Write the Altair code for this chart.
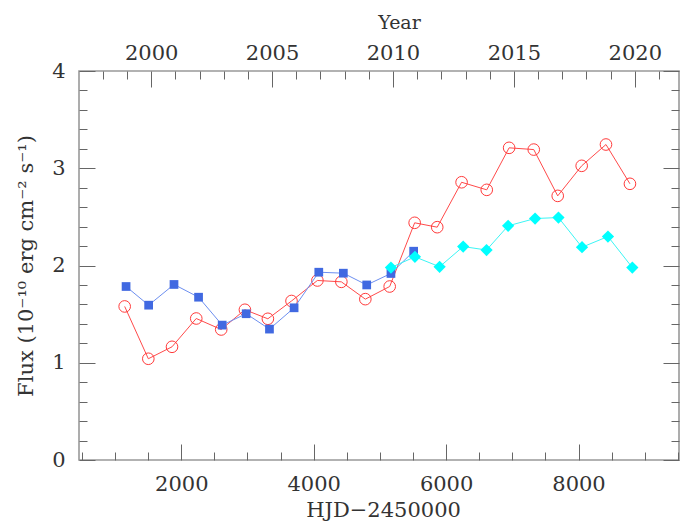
import altair as alt
import pandas as pd

# ---- data ----
hjd_red = [1145, 1502, 1860, 2226, 2603, 2961, 3308, 3665, 4056, 4418, 4780,
           5148, 5525, 5866, 6234, 6614, 6952, 7324, 7686, 8048, 8415, 8777]
flux_red = [1.579, 1.041, 1.164, 1.455, 1.342, 1.545, 1.452, 1.635, 1.846, 1.832, 1.654,
            1.784, 2.439, 2.394, 2.856, 2.778, 3.210, 3.192, 2.716, 3.025, 3.244, 2.840]

hjd_blue = [1166, 1507, 1890, 2261, 2618, 2980, 3332, 3704, 4077, 4448, 4801, 5167, 5510]
flux_blue = [1.784, 1.592, 1.805, 1.674, 1.387, 1.504, 1.346, 1.565, 1.931, 1.921, 1.800, 1.918, 2.147]

hjd_cyan = [5167, 5529, 5902, 6258, 6611, 6937, 7344, 7697, 8053, 8445, 8813]
flux_cyan = [1.979, 2.089, 1.987, 2.195, 2.159, 2.408, 2.483, 2.493, 2.188, 2.298, 1.979]

# ---- axis ticks ----
x_major = [2000, 4000, 6000, 8000]
x_minor = [500, 1000, 1500, 2500, 3000, 3500, 4500, 5000, 5500,
           6500, 7000, 7500, 8500, 9000, 9500]
year_major = [2000, 2005, 2010, 2015, 2020]
year_minor = [1998, 1999, 2001, 2002, 2003, 2004, 2006, 2007, 2008, 2009,
              2011, 2012, 2013, 2014, 2016, 2017, 2018, 2019, 2021]
y_major = [0, 1, 2, 3, 4]
y_minor = [0.2, 0.4, 0.6, 0.8, 1.2, 1.4, 1.6, 1.8, 2.2, 2.4, 2.6, 2.8,
           3.2, 3.4, 3.6, 3.8]

X_DOMAIN = [455, 9518]
Y_DOMAIN = [0, 4]
JD2000 = 1545.0  # HJD-2450000 of 2000.0
YEAR_DOMAIN = [2000 + (d - JD2000) / 365.25 for d in X_DOMAIN]

red = pd.DataFrame({"hjd": hjd_red, "flux": flux_red})
blue = pd.DataFrame({"hjd": hjd_blue, "flux": flux_blue})
cyan = pd.DataFrame({"hjd": hjd_cyan, "flux": flux_cyan})

xs = alt.Scale(domain=X_DOMAIN, nice=False, zero=False)
ys = alt.Scale(domain=Y_DOMAIN, nice=False, zero=False)
yrs = alt.Scale(domain=YEAR_DOMAIN, nice=False, zero=False)

W, H = 600, 389
TICK = "#666666"


def xplain():
    return alt.X("hjd:Q", scale=xs, axis=None)


def yplain():
    return alt.Y("flux:Q", scale=ys, axis=None)


# ---- data layers ----
red_line = alt.Chart(red).mark_line(color="#ff4a4a", strokeWidth=1).encode(x=xplain(), y=yplain())
red_pts = alt.Chart(red).mark_point(shape="circle", filled=False, color="#ff3a3a",
                                     size=135, strokeWidth=1, opacity=1).encode(x=xplain(), y=yplain())
blue_line = alt.Chart(blue).mark_line(color="#6d8ff0", strokeWidth=1).encode(x=xplain(), y=yplain())
blue_pts = alt.Chart(blue).mark_point(shape="square", filled=True, color="#4169e1",
                                       size=76, opacity=1).encode(x=xplain(), y=yplain())
cyan_line = alt.Chart(cyan).mark_line(color="#3cf5f5", strokeWidth=1).encode(x=xplain(), y=yplain())
cyan_pts = alt.Chart(cyan).mark_point(shape="diamond", filled=True, color="#00ffff",
                                       size=150, opacity=1).encode(x=xplain(), y=yplain())


def ghost(x, y, data=red):
    return alt.Chart(data).mark_point(opacity=0, size=1).encode(x=x, y=y)


YEAR_EXPR = "2000 + (datum.hjd - 1545) / 365.25"

# bottom axes
bottom_major = ghost(
    alt.X("hjd:Q", scale=xs, axis=alt.Axis(
        orient="bottom", values=x_major, offset=-16, tickSize=16, labelPadding=13,
        format="d", labelFlush=False, title="HJD\u22122450000",
        titleX=304, titleY=72.3, titleBaseline="alphabetic", titleAlign="center",
        titleFontSize=21)),
    yplain())
bottom_minor = ghost(
    alt.X("hjd:Q", scale=xs, axis=alt.Axis(
        orient="bottom", values=x_minor, offset=-8, tickSize=8, labels=False, title=None)),
    yplain())

# top (year) axes
top_major = ghost(
    alt.X("year:Q", scale=yrs, axis=alt.Axis(
        orient="top", values=year_major, offset=-16, tickSize=16, labelPadding=8,
        format="d", labelFlush=False, title="Year",
        titleX=320, titleY=-59, titleBaseline="alphabetic", titleAlign="center",
        titleFontSize=19)),
    yplain()).transform_calculate(year=YEAR_EXPR)
top_minor = ghost(
    alt.X("year:Q", scale=yrs, axis=alt.Axis(
        orient="top", values=year_minor, offset=-8, tickSize=8, labels=False, title=None)),
    yplain()).transform_calculate(year=YEAR_EXPR)

# left axes
left_major = ghost(
    xplain(),
    alt.Y("flux:Q", scale=ys, axis=alt.Axis(
        orient="left", values=y_major, offset=-16, tickSize=16, labelPadding=14,
        format="d", labelFlush=False,
        title="Flux (10\u207b\u00b9\u2070 erg cm\u207b\u00b2 s\u207b\u00b9)",
        titleX=-63, titleY=H / 2, titleAngle=270, titleBaseline="alphabetic",
        titleAlign="center", titleFontSize=21)))
left_minor = ghost(
    xplain(),
    alt.Y("flux:Q", scale=ys, axis=alt.Axis(
        orient="left", values=y_minor, offset=-8, tickSize=8, labels=False, title=None)))

# right axes
right_major = ghost(
    xplain(),
    alt.Y("flux:Q", scale=ys, axis=alt.Axis(
        orient="right", values=y_major, offset=-16, tickSize=16, labels=False, title=None)))
right_minor = ghost(
    xplain(),
    alt.Y("flux:Q", scale=ys, axis=alt.Axis(
        orient="right", values=y_minor, offset=-8, tickSize=8, labels=False, title=None)))

chart = alt.layer(
    red_line, red_pts, blue_line, blue_pts, cyan_line, cyan_pts,
    bottom_major, bottom_minor, top_major, top_minor,
    left_major, left_minor, right_major, right_minor,
).resolve_scale(
    x="independent", y="independent"
).resolve_axis(
    x="independent", y="independent"
).properties(
    width=W, height=H,
    autosize=alt.AutoSizeParams(type="none"),
    padding={"left": 71, "top": 63, "right": 8, "bottom": 66},
).configure_view(
    stroke="#999999", strokeWidth=1.6
).configure_axis(
    grid=False, domain=False, tickColor=TICK, tickWidth=1,
    labelFont="DejaVu Serif", labelFontSize=21, labelColor="#333333",
    titleFont="DejaVu Serif", titleFontSize=21, titleColor="#333333",
    titleFontWeight="normal",
)

chart.save("out.html", embed_options={"renderer": "svg", "actions": False})
